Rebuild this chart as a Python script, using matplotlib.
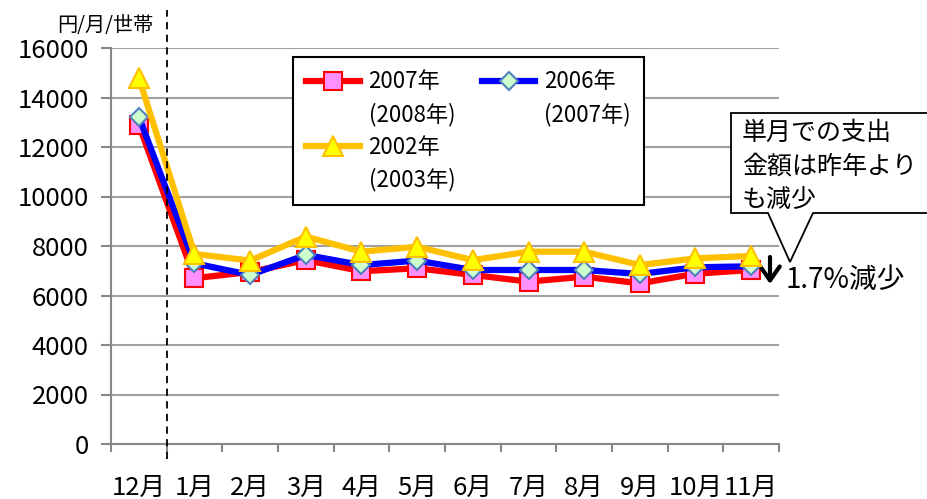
import matplotlib
matplotlib.use("Agg")
import matplotlib.pyplot as plt
from matplotlib.lines import Line2D
from matplotlib.patches import Polygon

plt.rcParams['font.family'] = ['Noto Sans CJK JP', 'DejaVu Sans']

months = ['12月', '1月', '2月', '3月', '4月', '5月', '6月', '7月', '8月', '9月', '10月', '11月']
s2007 = [12900, 6700, 6950, 7430, 6980, 7100, 6830, 6560, 6760, 6490, 6880, 7030]
s2006 = [13220, 7300, 6830, 7640, 7230, 7410, 7030, 7030, 7030, 6870, 7140, 7180]
s2002 = [14800, 7680, 7410, 8380, 7770, 7970, 7430, 7770, 7770, 7230, 7500, 7600]
label2007 = ['2007年', '(2008年)']
label2006 = ['2006年', '(2007年)']
label2002 = ['2002年', '(2003年)']
yticks = [0, 2000, 4000, 6000, 8000, 10000, 12000, 14000, 16000]

W, H = 928, 499
fig = plt.figure(figsize=(W / 100, H / 100), dpi=100)
ax = fig.add_axes([111 / W, (H - 444) / H, (779 - 111) / W, (444 - 48) / H])

x = list(range(len(months)))
st2007 = dict(color='#FF0000', lw=4.5, marker='s', ms=13, mfc='#FF8FFF', mec='#FF0000', mew=1.5)
st2006 = dict(color='#0000FF', lw=4.5, marker='D', ms=9, mfc='#CCFFCC', mec='#4F81BD', mew=1.5)
st2002 = dict(color='#FFC000', lw=4.5, marker='^', ms=14, mfc='#FFFF00', mec='#FFC000', mew=1.5)

ax.plot(x, s2007, zorder=3, **st2007)
ax.plot(x, s2006, zorder=4, **st2006)
ax.plot(x, s2002, zorder=5, **st2002)

ax.set_xlim(-0.5, len(months) - 0.5)
ax.set_ylim(0, 16000)
ax.set_yticks(yticks)
ax.set_yticklabels([str(v) for v in yticks])
ax.yaxis.grid(True, color='#A0A0A0', lw=1.5)
ax.set_axisbelow(True)
ax.set_xticks(x)
ax.set_xticklabels(months)
ax.set_xticks([i - 0.5 for i in range(len(months) + 1)], minor=True)
ax.tick_params(axis='x', which='major', length=0, pad=22, labelsize=18.5)
ax.tick_params(axis='x', which='minor', length=6, width=1.5, color='#888888', direction='out')
ax.tick_params(axis='y', which='major', length=7, width=1.5, color='#888888', direction='out', pad=9, labelsize=18.5)
for s in ['top', 'right']:
    ax.spines[s].set_visible(False)
for s in ['left', 'bottom']:
    ax.spines[s].set_color('#888888')
    ax.spines[s].set_linewidth(1.5)

# dashed separator between 12月 and 1月
ax.axvline(0.5, ymin=-0.038, ymax=1.096, color='black', lw=1.3, ls=(0, (4, 3)), clip_on=False, zorder=6)

# axis unit
fig.text(105 / W, 1 - 25 / H, '円/月/世帯', fontsize=14.5, ha='center', va='center')

# legend
blank = Line2D([], [], linestyle='none')
h2007 = Line2D([], [], **st2007)
h2006 = Line2D([], [], **st2006)
h2002 = Line2D([], [], **st2002)
handles = [h2007, blank, h2002, blank, h2006, blank, blank, blank]
labels = [label2007[0], label2007[1], label2002[0], label2002[1], label2006[0], label2006[1], ' ', ' ']
leg = ax.legend(handles, labels, ncol=2, loc='upper left', bbox_to_anchor=(293 / W, 1 - 57 / H),
                bbox_transform=fig.transFigure, fontsize=16, frameon=True, fancybox=False,
                edgecolor='black', framealpha=1, handlelength=2.4, handletextpad=0.4,
                columnspacing=1.2, labelspacing=0.42, borderpad=0.6, borderaxespad=0)
leg.get_frame().set_linewidth(1.5)
leg.set_zorder(10)

# callout box
pts = [(731, 113), (945, 113), (945, 213), (813, 213), (790, 262), (768, 213), (731, 213)]
poly = Polygon([(px / W, 1 - py / H) for px, py in pts], closed=True, transform=fig.transFigure,
               facecolor='white', edgecolor='black', lw=1.3, clip_on=False, zorder=20)
fig.add_artist(poly)
for txt, py in [('単月での支出', 133), ('金額は昨年より', 167), ('も減少', 200)]:
    fig.text(742 / W, 1 - py / H, txt, fontsize=18, ha='left', va='center', zorder=21)

# decrease arrow and text
ax.annotate('', xy=(770 / W, 1 - 284 / H), xytext=(770 / W, 1 - 257 / H), xycoords='figure fraction',
            textcoords='figure fraction',
            arrowprops=dict(arrowstyle='->,head_length=0.5,head_width=0.35', lw=3, color='black',
                            mutation_scale=20, shrinkA=0, shrinkB=0))
fig.text(786 / W, 1 - 280 / H, '1.7%減少', fontsize=20, ha='left', va='center')

fig.savefig('out.png', dpi=100)
